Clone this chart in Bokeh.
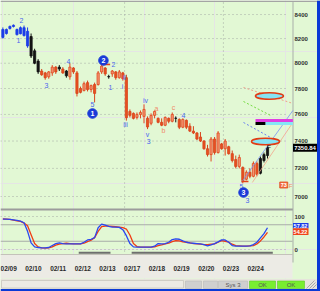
import numpy as np
from bokeh.plotting import figure
from bokeh.models import Range1d, LogScale, ColumnDataSource
from bokeh.core.properties import value
from bokeh.embed import file_html
from bokeh.resources import INLINE

# ---------------- data ----------------
days = ["02/09", "02/10", "02/11", "02/12", "02/13", "02/17",
        "02/18", "02/19", "02/20", "02/23", "02/24"]
bars_per_day = 7
week_starts = ["02/17", "02/23"]

opens = [8210, 8275, 8283, 8300, 8275, 8240, 8290, 8260, 8217, 8100,
         8017, 7938, 7923, 7892, 7923, 7969, 7969, 7954, 7938, 7892,
         7962, 7923, 7800, 7785, 7846, 7792, 7831, 7831, 7931, 7962,
         7892, 7915, 7931, 7885, 7923, 7885, 7623, 7608, 7577, 7600,
         7585, 7570, 7533, 7593, 7570, 7540, 7518, 7570, 7548, 7570,
         7562, 7503, 7555, 7511, 7474, 7460, 7430, 7400, 7343, 7300,
         7415, 7315, 7379, 7343, 7358, 7307, 7264, 7214, 7207, 7122,
         7172, 7143, 7236, 7165, 7257, 7293]
highs = [8292, 8283, 8308, 8317, 8283, 8300, 8308, 8292, 8242, 8117,
         8033, 7954, 7931, 7938, 7985, 7977, 7985, 7969, 7946, 8000,
         7969, 7938, 7815, 7854, 7862, 7831, 7846, 7938, 7985, 7969,
         7908, 7946, 7938, 7946, 7931, 7908, 7638, 7615, 7615, 7630,
         7677, 7585, 7608, 7630, 7577, 7570, 7585, 7577, 7615, 7585,
         7570, 7570, 7562, 7533, 7511, 7467, 7467, 7407, 7372, 7430,
         7430, 7474, 7386, 7415, 7365, 7330, 7293, 7300, 7214, 7186,
         7200, 7250, 7250, 7286, 7315, 7379]
lows = [8200, 8233, 8275, 8292, 8225, 8235, 8217, 8125, 8042, 7992,
        7915, 7900, 7869, 7877, 7900, 7915, 7938, 7915, 7885, 7869,
        7915, 7738, 7762, 7777, 7777, 7770, 7692, 7823, 7915, 7900,
        7877, 7892, 7869, 7877, 7862, 7553, 7577, 7562, 7562, 7570,
        7533, 7489, 7518, 7570, 7533, 7511, 7511, 7533, 7540, 7540,
        7489, 7496, 7489, 7467, 7452, 7407, 7393, 7336, 7286, 7250,
        7300, 7308, 7336, 7293, 7300, 7243, 7200, 7200, 7093, 7114,
        7129, 7136, 7143, 7157, 7243, 7272]
closes = [8275, 8242, 8300, 8310, 8233, 8290, 8225, 8140, 8058, 8000,
          7931, 7908, 7885, 7931, 7969, 7931, 7954, 7923, 7900, 7969,
          7931, 7762, 7770, 7838, 7792, 7823, 7762, 7923, 7977, 7915,
          7894, 7938, 7885, 7931, 7877, 7575, 7593, 7570, 7600, 7615,
          7638, 7505, 7593, 7623, 7540, 7518, 7577, 7548, 7600, 7571,
          7503, 7562, 7503, 7474, 7460, 7415, 7400, 7343, 7300, 7415,
          7315, 7460, 7343, 7400, 7307, 7257, 7214, 7279, 7114, 7172,
          7143, 7236, 7157, 7271, 7300, 7350.84]
# bar state: U = blue, N = black, D = red
trend = (["U"] * 8 + ["N"] * 3 + ["D"] * 5 + ["N"] + ["D"] + ["N"] + ["D"] * 11
         + ["N"] + ["D"] * 18 + ["N"] + ["D"] * 23 + ["N"] * 3)

stoch_k = [92, 92, 91, 90, 88, 86, 81, 55, 20, 8, 6, 5, 5, 6, 12, 18, 20, 18, 17, 17,
           17, 17, 17, 22, 29, 31, 36, 66, 77, 74, 70, 68, 68, 67, 60, 42, 18, 8, 7, 7,
           7, 7, 7, 10, 18, 17, 18, 22, 30, 32, 31, 26, 22, 20, 19, 18, 17, 15, 11, 14,
           18, 23, 29, 29, 22, 12, 10, 10, 10, 10, 11, 15, 22, 35, 48, 66]
stoch_d = [93, 92, 91, 89, 87, 85, 80, 72, 45, 18, 8, 5, 4, 5, 8, 13, 16, 18, 19, 18,
           17, 17, 17, 19, 24, 28, 36, 55, 69, 71, 71, 70, 69, 68, 66, 62, 44, 18, 9, 7,
           7, 7, 7, 8, 12, 14, 17, 19, 24, 27, 26, 23, 22, 20, 18, 17, 16, 15, 15, 16,
           17, 22, 27, 25, 22, 16, 12, 11, 10, 10, 11, 12, 17, 26, 38, 52]
stoch_k_label = "57.82"
stoch_d_label = "54.22"
signal_start = [22, 37]
signal_end = [30, 76]

price_ticks = [7000, 7200, 7400, 7600, 7800, 8000, 8200, 8400]
osc_ticks = [0, 100]

wave_text = ["2", "1", "3", "4", "5", "2", "1", "i", "ii", "iii", "iv", "v", "3", "4", "5", "3"]
wave_x = [5.28, 4.43, 12.37, 18.6, 25.4, 31.36, 30.5, 33.9, 34.5, 34.77, 40.44, 41.0, 41.3, 51.19, 67.63, 69.33]
wave_p = [8350, 8184, 7823, 8014, 7676, 7990, 7808, 7816, 7886, 7524, 7707, 7449, 7397, 7592, 7070, 6972]
abc_text = ["a", "b", "c"]
abc_x = [43.54, 45.5, 48.36]
abc_p = [7645, 7479, 7653]
circle_text = ["1", "2", "3"]
circle_x = [25.4, 28.5, 68.2]
circle_p = [7607, 8022, 7028]
mark_x0 = [27.8, 67.6]
mark_x1 = [30.4, 69.6]
mark_p = [7990, 7106]

target_x = [75.56, 74.43]
target_p = [7742, 7397]
proj_salmon_x = [68.2, 82.2]
proj_salmon_p = [7808, 7684]
proj_green_x = [68.2, 75.9]
proj_green_p = [7699, 7592]
proj_blue_x = [68.2, 75.9]
proj_blue_p = [7539, 7426]
chan_blue_x = [67.6, 82.2]
chan_blue_p = [7099, 7630]
chan_salmon_x = [70.7, 82.2]
chan_salmon_p = [7099, 7539]
level_left = [71.6, 74.4, 71.6]
level_right = [82.2, 82.2, 74.4]
level_bottom = [7543, 7520, 7520]
level_top = [7565, 7543, 7543]
level_kind = ["magenta", "cyan", "black"]
count_x = [79.6]
count_p = [7081]
count_text = ["73"]

status_text = ["Sys 3", "OK", "OK"]

# ---------------- layout helpers ----------------
FONT = "Liberation Sans"
GREEN = "#e2f8d4"
BAR_PX = 24.7 / bars_per_day


def bx(px):
    return (px - 0.6) / BAR_PX - 0.5


def oy(py):
    return (249.0 - py) * 100.0 / 33.0


def pp(py):
    return 7000.0 * np.exp((196.0 - py) / 998.0)


p = figure(width=320, height=291, output_backend="svg", toolbar_location=None,
           x_range=Range1d(bx(0), bx(320)), y_range=Range1d(oy(291), oy(0)),
           min_border=0, title=None, x_axis_location=None, y_axis_location=None,
           background_fill_color=GREEN, border_fill_color=GREEN, outline_line_color=None)
p.extra_y_ranges = {"price": Range1d(pp(291), pp(0))}
p.extra_y_scales = {"price": LogScale()}


def txt(x, y, t, size, color, align="center", bold=False, rng=None, base="middle"):
    kw = dict(x=x, y=y, text=t, text_font=value(FONT), text_font_size=f"{size}px",
              text_color=color, text_align=align, text_baseline=base,
              text_font_style="bold" if bold else "normal")
    if rng:
        kw["y_range_name"] = rng
    p.text(**kw)


# ---------------- chrome ----------------
p.quad(left=[bx(0)], right=[bx(320)], bottom=[oy(1.6)], top=[oy(0)], fill_color="#a4a4a4", line_color=None)
p.quad(left=[bx(0)], right=[bx(292)], bottom=[oy(278)], top=[oy(254)], fill_color="#ecebe5", line_color=None)
p.segment(x0=[bx(0)], x1=[bx(292)], y0=[oy(254)], y1=[oy(254)], line_color="#c4c2ba", line_width=1)
p.quad(left=[bx(0)], right=[bx(316.5)], bottom=[oy(288.5)], top=[oy(278.5)], fill_color="#e6e4dc", line_color=None)
p.quad(left=[bx(1)], right=[bx(183)], bottom=[oy(287.5)], top=[oy(280)], fill_color="#eceae4", line_color="#c8c6be", line_width=0.8)
p.quad(left=[bx(185), bx(203), bx(218)], right=[bx(201), bx(217), bx(247)],
       bottom=[oy(288)] * 3, top=[oy(280.5)] * 3, fill_color="#cfcfcf", line_color="#b8b8b8", line_width=0.6)
p.quad(left=[bx(249), bx(277)], right=[bx(275), bx(304)], bottom=[oy(288)] * 2, top=[oy(280.5)] * 2,
       fill_color="#78ee30", line_color="#5cc828", line_width=0.6)
txt([bx(232.5), bx(262), bx(290.5)], [oy(284.3)] * 3, status_text, 6, "#555555")
p.segment(x0=[bx(306), bx(309), bx(312)], x1=[bx(314), bx(315), bx(316)],
          y0=[oy(288)] * 3, y1=[oy(280), oy(282), oy(284)], line_color="#a8a8a8", line_width=1)
p.quad(left=[bx(0)], right=[bx(320)], bottom=[oy(291)], top=[oy(288.5)], fill_color="#0b3ad6", line_color=None)
p.quad(left=[bx(316.5)], right=[bx(320)], bottom=[oy(291)], top=[oy(0)], fill_color="#0b3ad6", line_color=None)

# separator, axis line
p.segment(x0=[bx(0)], x1=[bx(292.5)], y0=[oy(209)], y1=[oy(209)], line_color="#9c9c9c", line_width=2)
p.segment(x0=[bx(292.5)], x1=[bx(292.5)], y0=[oy(1.6)], y1=[oy(262)], line_color="#a9aea9", line_width=1)

# grids
p.segment(x0=[bx(0)] * len(price_ticks), x1=[bx(287)] * len(price_ticks), y0=price_ticks, y1=price_ticks,
          y_range_name="price", line_color="#a4aaa4", line_dash="1 3", line_width=1)
p.segment(x0=[bx(0)] * 2, x1=[bx(287)] * 2, y0=osc_ticks, y1=osc_ticks,
          line_color="#a4aaa4", line_dash="1 3", line_width=1)
p.segment(x0=[bx(0)] * 2, x1=[bx(292)] * 2, y0=[25, 75], y1=[25, 75], line_color="#a8aca8", line_width=1)
wx = [bars_per_day * days.index(d) - 0.5 for d in week_starts]
p.segment(x0=wx, x1=wx, y0=[oy(2)] * len(wx), y1=[oy(254)] * len(wx),
          line_color="#a4aaa4", line_dash="1 3", line_width=1)

# ---------------- candles ----------------
n = len(opens)
idx = list(range(n))
fills, lines = [], []
for o, c, t in zip(opens, closes, trend):
    if t == "U":
        fills.append("#1c3ce8"); lines.append("#1c3ce8")
    elif t == "N":
        fills.append("#141414"); lines.append("#141414")
    else:
        if c >= o:
            fills.append("#f59572"); lines.append("#e0471e")
        else:
            fills.append("#e8501f"); lines.append("#d8431c")
src = ColumnDataSource(dict(x=idx, o=opens, h=highs, l=lows, c=closes,
                            top=[max(a, b) for a, b in zip(opens, closes)],
                            bottom=[min(a, b) for a, b in zip(opens, closes)],
                            fc=fills, lc=lines))
p.segment(x0="x", x1="x", y0="l", y1="h", line_color="lc", line_width=1, source=src, y_range_name="price")
p.vbar(x="x", width=0.62, top="top", bottom="bottom", fill_color="fc", line_color="lc",
       line_width=0.8, source=src, y_range_name="price")

# ---------------- projections ----------------
p.line(proj_salmon_x, proj_salmon_p, y_range_name="price", line_color="#f0a08a", line_dash="2 2", line_width=1)
p.line(proj_green_x, proj_green_p, y_range_name="price", line_color="#74dc40", line_dash="2 2", line_width=1)
p.line(proj_blue_x, proj_blue_p, y_range_name="price", line_color="#6a82f0", line_dash="2 2", line_width=1)
p.line(chan_blue_x, chan_blue_p, y_range_name="price", line_color="#7a92f2", line_width=0.8)
p.line(chan_salmon_x, chan_salmon_p, y_range_name="price", line_color="#f2a48c", line_width=0.8)
lvl_col = {"magenta": "#e03ee0", "cyan": "#84e6f6", "black": "#000000"}
p.quad(left=level_left, right=level_right, bottom=level_bottom, top=level_top, y_range_name="price",
       fill_color=[lvl_col[k] for k in level_kind], line_color=None)
p.ellipse(x=target_x, y=target_p, width=28, height=6.5, width_units="screen", height_units="screen",
          y_range_name="price", fill_color="#86e4f4", line_color="#e23c14", line_width=1.5)
p.rect(x=count_x, y=count_p, width=8, height=6, width_units="screen", height_units="screen",
       y_range_name="price", fill_color="#f37043", line_color="#e04a1e", line_width=0.8)
txt(count_x, count_p, count_text, 5.5, "#ffffff", bold=True, rng="price")
txt([bx(290)], [pp(185)], ["F"], 6, "#f08a6a", rng="price")
txt([bx(268.5)], [pp(146)], ["F"], 6, "#202020", rng="price")

# ---------------- wave labels ----------------
p.segment(x0=mark_x0, x1=mark_x1, y0=mark_p, y1=mark_p, y_range_name="price", line_color="#e2401a", line_width=1.5)
txt(wave_x, wave_p, wave_text, 7, "#4a66ee", rng="price")
txt(abc_x, abc_p, abc_text, 7, "#f08a6a", rng="price")
p.scatter(x=circle_x, y=circle_p, marker="circle", size=9.5, y_range_name="price",
          fill_color="#1a3ad8", line_color="#1a3ad8")
txt(circle_x, circle_p, circle_text, 7, "#ffffff", bold=True, rng="price")

# ---------------- stochastic ----------------
p.line(idx, stoch_d, line_color="#f03c14", line_width=1.3)
p.line(idx, stoch_k, line_color="#2a46f0", line_width=1.3)
p.quad(left=[s - 0.5 for s in signal_start], right=[e + 0.5 for e in signal_end],
       bottom=[oy(253.2)] * 2, top=[oy(251.2)] * 2, fill_color="#6e6e6e", line_color=None)

# ---------------- axis labels ----------------
txt([bx(294)] * len(price_ticks), price_ticks, [str(v) for v in price_ticks], 6, "#303030",
    align="left", bold=True, rng="price")
txt([bx(294)] * 2, osc_ticks, [str(v) for v in osc_ticks], 6, "#303030", align="left", bold=True)
txt([bars_per_day * i + 1.65 for i in range(len(days))], [oy(268)] * len(days), days, 6.5, "#2a2a2a", bold=True)

# value boxes
p.quad(left=[bx(292.5)], right=[bx(308)], bottom=[oy(227.8)], top=[oy(222.6)], fill_color="#1c3ce8", line_color=None)
txt([bx(300)], [oy(225.2)], [stoch_k_label], 5.5, "#ffffff", bold=True)
p.quad(left=[bx(292.5)], right=[bx(308)], bottom=[oy(234.4)], top=[oy(227.8)], fill_color="#f0441a", line_color=None)
txt([bx(300)], [oy(231.1)], [stoch_d_label], 5.5, "#ffffff", bold=True)
p.rect(x=[bx(304.5)], y=[closes[-1]], width=24, height=8, width_units="screen", height_units="screen",
       y_range_name="price", fill_color="#000000", line_color=None)
txt([bx(304.5)], [closes[-1]], [f"{closes[-1]:.2f}"], 6, "#ffffff", bold=True, rng="price")

open("out.html", "w").write(file_html(p, INLINE))
